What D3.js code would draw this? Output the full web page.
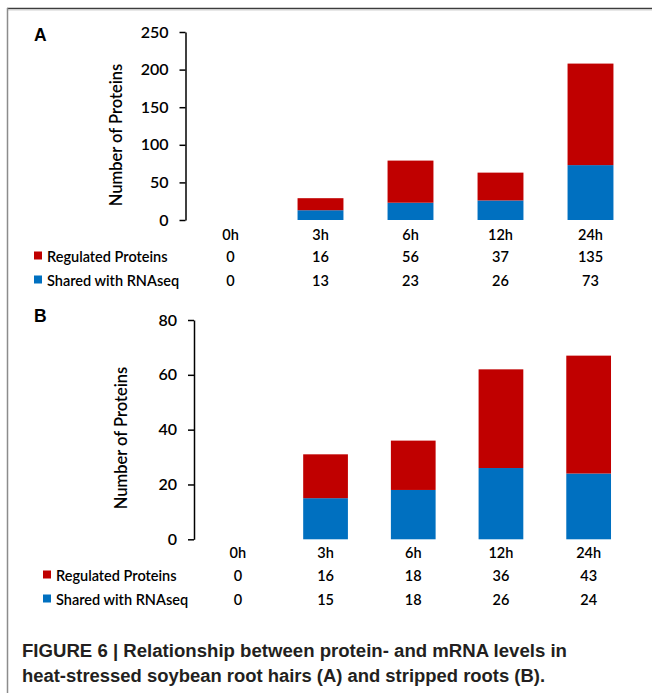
<!DOCTYPE html>
<html><head><meta charset="utf-8">
<script src="https://cdn.jsdelivr.net/npm/d3@7"></script>
<style>body{margin:0;background:#fff}svg{display:block}</style>
</head><body>
<svg id="c" width="652" height="693"></svg>
<script>
const categories = ["0h","3h","6h","12h","24h"];
const seriesNames = ["Regulated Proteins","Shared with RNAseq"];
const regulatedA = [0,16,56,37,135];
const sharedA = [0,13,23,26,73];
const regulatedB = [0,16,18,36,43];
const sharedB = [0,15,18,26,24];
const ticksA = [0,50,100,150,200,250];
const ticksB = [0,20,40,60,80];
const captionLines = ["FIGURE 6 | Relationship between protein- and mRNA levels in","heat-stressed soybean root hairs (A) and stripped roots (B)."];

const RED = "#C00000", BLUE = "#0070C0";
const FONT = "Lato, 'Open Sans', sans-serif";
const svg = d3.select("#c");

// frame
svg.append("line").attr("x1",7).attr("x2",652).attr("y1",8.5).attr("y2",8.5).attr("stroke","#3c3c3c").attr("stroke-width",1.5);
svg.append("line").attr("x1",7).attr("x2",652).attr("y1",10).attr("y2",10).attr("stroke","#cfcfcf").attr("stroke-width",1);
svg.append("line").attr("x1",7.5).attr("x2",7.5).attr("y1",8).attr("y2",693).attr("stroke","#8c8c8c").attr("stroke-width",1.5);

function panel(o){
  const g = svg.append("g");
  const y = d3.scaleLinear().domain([0,o.max]).range([o.y0,o.y1]);
  const x = d3.scaleBand().domain(categories).range([o.xl,o.xr]).paddingInner(0.49).paddingOuter(0.245);
  const rows = categories.map((c,i)=>({cat:c, shared:o.shared[i], regulated:o.regulated[i]}));
  const stack = d3.stack().keys(["shared","regulated"])(rows);
  const colors = {shared:BLUE, regulated:RED};
  stack.forEach(s=>{
    g.selectAll(null).data(s.filter(d=>d[1]>d[0])).join("rect")
      .attr("x",d=>x(d.data.cat)).attr("width",x.bandwidth())
      .attr("y",d=>y(d[1])).attr("height",d=>y(d[0])-y(d[1]))
      .attr("fill",colors[s.key]);
  });
  const ax = g.append("g").attr("transform",`translate(${o.xl},0)`)
    .call(d3.axisLeft(y).tickValues(o.ticks).tickSize(6).tickSizeOuter(0).tickPadding(11));
  ax.select(".domain").attr("stroke","#000").attr("stroke-width",1.5);
  ax.selectAll(".tick line").attr("stroke","#000").attr("stroke-width",1.5);
  ax.selectAll(".tick text").attr("font-family",FONT).attr("font-size",16).attr("font-weight",600).attr("fill","#000");
  // y title
  g.append("text").attr("transform",`translate(${o.tx},${o.ty}) rotate(-90)`)
    .attr("text-anchor","middle").attr("dominant-baseline","central")
    .attr("font-family",FONT).attr("font-size",16.5).attr("font-weight",600).text("Number of Proteins");
  // panel letter
  g.append("text").attr("x",34).attr("y",o.ly).attr("font-family","'Liberation Sans', Arial, sans-serif")
    .attr("font-weight","bold").attr("font-size",17.5).text(o.letter);
  // category labels
  const tf = (sel)=>sel.attr("text-anchor","middle").attr("dominant-baseline","central")
    .attr("font-family",FONT).attr("font-size",14.5).attr("font-weight",600).attr("fill","#000");
  g.selectAll(null).data(categories).join("text").attr("x",d=>x(d)+x.bandwidth()/2).attr("y",o.cy).text(d=>d).call(tf);
  g.selectAll(null).data(o.regulated).join("text").attr("x",(d,i)=>x(categories[i])+x.bandwidth()/2).attr("y",o.r1).text(d=>d).call(tf);
  g.selectAll(null).data(o.shared).join("text").attr("x",(d,i)=>x(categories[i])+x.bandwidth()/2).attr("y",o.r2).text(d=>d).call(tf);
  // legend keys
  [[seriesNames[0],RED,o.r1],[seriesNames[1],BLUE,o.r2]].forEach(([n,c,yy])=>{
    g.append("rect").attr("x",o.kx).attr("y",yy-4.5).attr("width",8).attr("height",8).attr("fill",c);
    g.append("text").attr("x",o.kx+13).attr("y",yy).attr("dominant-baseline","central")
      .attr("font-family",FONT).attr("font-size",14.5).attr("font-weight",600).attr("fill","#000").text(n);
  });
}

panel({letter:"A", ly:41, max:250, ticks:ticksA, y0:220, y1:32, xl:185.5, xr:635.5,
  regulated:regulatedA, shared:sharedA, tx:116, ty:135, cy:234, r1:256, r2:280, kx:34});
panel({letter:"B", ly:322, max:80, ticks:ticksB, y0:539.3, y1:320, xl:194, xr:632.5,
  regulated:regulatedB, shared:sharedB, tx:121, ty:438, cy:552, r1:575, r2:599, kx:43});

const capWidths = [545, 523];
svg.selectAll(null).data(captionLines).join("text")
  .attr("x",22).attr("y",(d,i)=>656.5+i*25)
  .attr("font-family","'Liberation Sans', Arial, sans-serif").attr("font-weight","bold")
  .attr("font-size",17.5).attr("fill","#231f20")
  .attr("textLength",(d,i)=>capWidths[i]).attr("lengthAdjust","spacingAndGlyphs")
  .text(d=>d);
</script>
</body></html>
